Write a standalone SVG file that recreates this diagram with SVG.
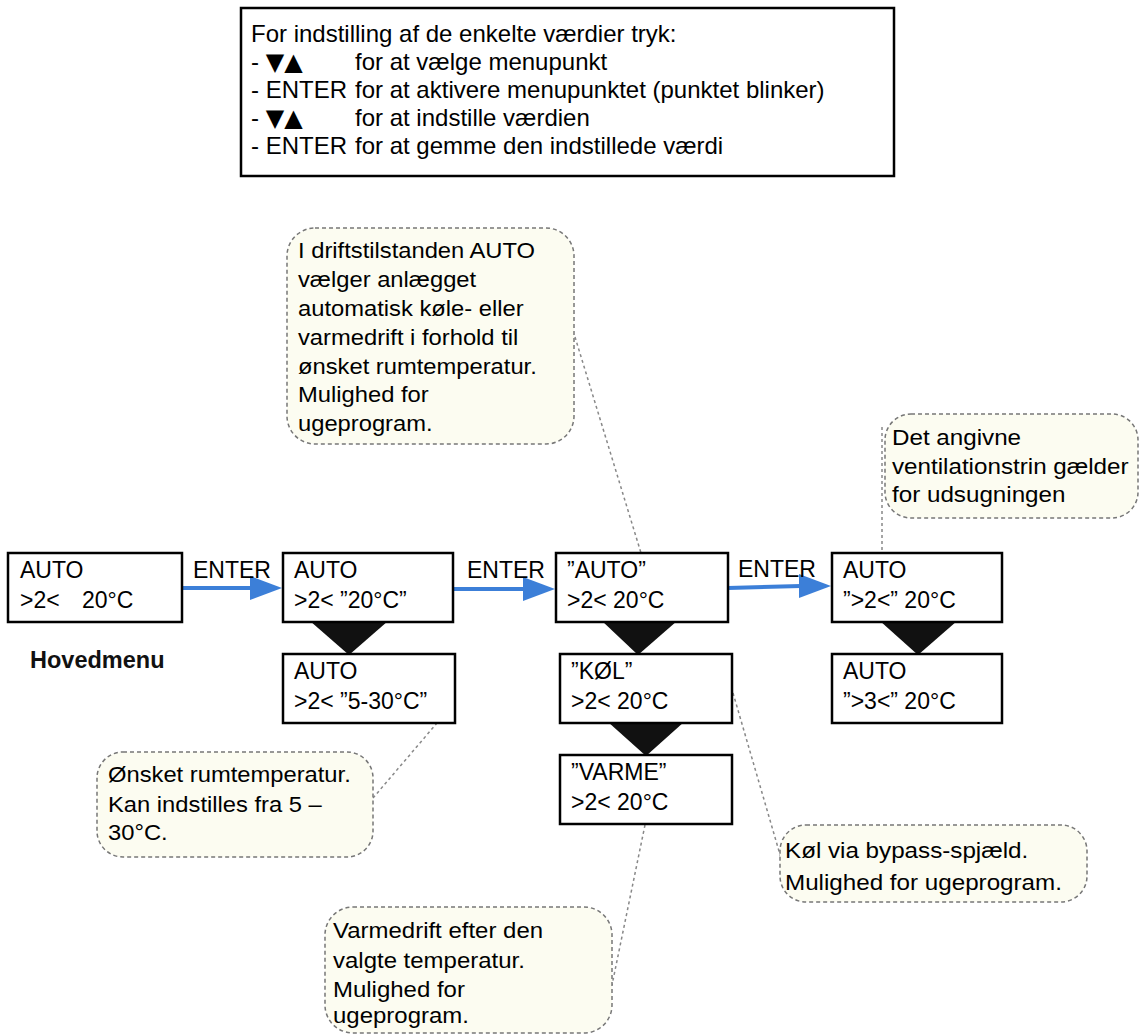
<svg xmlns="http://www.w3.org/2000/svg" width="1141" height="1035" viewBox="0 0 1141 1035">
<defs>
<style>
.box{fill:#fff;stroke:#000;stroke-width:2.5}
.t{font-family:"Liberation Sans",Arial,sans-serif;font-size:23px;fill:#000}
.i{font-family:"Liberation Sans","DejaVu Sans",Arial,sans-serif;font-size:24px;fill:#000}
.sym{font-family:"DejaVu Sans",sans-serif;font-size:24px}
.c{font-family:"Liberation Sans",Arial,sans-serif;font-size:22px;fill:#000}
.b{font-family:"Liberation Sans",Arial,sans-serif;font-size:23.5px;font-weight:bold;fill:#111}
.call{fill:#fcfcf1;stroke:#777;stroke-width:1.5;stroke-dasharray:4 3}
.lead{fill:none;stroke:#888;stroke-width:1.5;stroke-dasharray:3 3}
.tri{fill:#111}
.arr{stroke:#3c7fd8;stroke-width:4;fill:none}
.ah{fill:#3c7fd8}
</style>
</defs>
<rect width="1141" height="1035" fill="#fff"/>

<g id="info">
<rect x="241" y="8" width="653" height="168" fill="#fff" stroke="#000" stroke-width="2.5"/>
<text class="i" x="251" y="42">For indstilling af de enkelte værdier tryk:</text>
<text class="i" x="251" y="70">- <tspan class="sym">▼▲</tspan></text><text class="i" x="355" y="70">for at vælge menupunkt</text>
<text class="i" x="251" y="98">- ENTER</text><text class="i" x="355" y="98">for at aktivere menupunktet (punktet blinker)</text>
<text class="i" x="251" y="126">- <tspan class="sym">▼▲</tspan></text><text class="i" x="355" y="126">for at indstille værdien</text>
<text class="i" x="251" y="154">- ENTER</text><text class="i" x="355" y="154">for at gemme den indstillede værdi</text>
</g>

<g id="connectors">
<line class="lead" x1="575" y1="337" x2="641" y2="553"/>
<line class="lead" x1="882" y1="427" x2="882" y2="553"/>
<line class="lead" x1="373" y1="798" x2="437" y2="723"/>
<line class="lead" x1="733" y1="693" x2="781" y2="858"/>
<line class="lead" x1="645" y1="825" x2="612" y2="985"/>
<line class="arr" x1="182" y1="588" x2="252" y2="588"/>
<polygon class="ah" points="250,576 282,588 250,600"/>
<line class="arr" x1="453" y1="589" x2="525" y2="589"/>
<polygon class="ah" points="523,577 555,589 523,601"/>
<line class="arr" x1="728" y1="588" x2="801" y2="586"/>
<polygon class="ah" points="799,574 831,586 799,598"/>
<text class="t" x="193" y="578">ENTER</text>
<text class="t" x="467" y="578">ENTER</text>
<text class="t" x="738" y="577">ENTER</text>
<polygon class="tri" points="310,621 388,621 349,655"/>
<polygon class="tri" points="602,621 677,621 638,655"/>
<polygon class="tri" points="608,722 684,722 646,756"/>
<polygon class="tri" points="880,621 957,621 918,655"/>
</g>

<g id="box1">
<rect class="box" x="8" y="553" width="174" height="69"/>
<text class="t" x="20" y="578">AUTO</text>
<text class="t" x="20" y="608">&gt;2&lt;</text><text class="t" x="82" y="608">20°C</text>
</g>
<text id="hovedmenu" class="b" x="30" y="668">Hovedmenu</text>

<g id="box2">
<rect class="box" x="283" y="553" width="170" height="69"/>
<text class="t" x="294" y="578">AUTO</text>
<text class="t" x="294" y="608">&gt;2&lt; ”20°C”</text>
</g>
<g id="box2b">
<rect class="box" x="283" y="654" width="172" height="69"/>
<text class="t" x="294" y="679">AUTO</text>
<text class="t" x="294" y="709">&gt;2&lt; ”5-30°C”</text>
</g>
<g id="box3">
<rect class="box" x="556" y="553" width="172" height="69"/>
<text class="t" x="567" y="578">”AUTO”</text>
<text class="t" x="567" y="608">&gt;2&lt; 20°C</text>
</g>
<g id="box3b">
<rect class="box" x="560" y="654" width="172" height="69"/>
<text class="t" x="571" y="679">”KØL”</text>
<text class="t" x="571" y="709">&gt;2&lt; 20°C</text>
</g>
<g id="box3c">
<rect class="box" x="560" y="755" width="172" height="69"/>
<text class="t" x="571" y="780">”VARME”</text>
<text class="t" x="571" y="810">&gt;2&lt; 20°C</text>
</g>
<g id="box4">
<rect class="box" x="832" y="553" width="170" height="69"/>
<text class="t" x="843" y="578">AUTO</text>
<text class="t" x="843" y="608">”&gt;2&lt;” 20°C</text>
</g>
<g id="box4b">
<rect class="box" x="832" y="654" width="170" height="69"/>
<text class="t" x="843" y="679">AUTO</text>
<text class="t" x="843" y="709">”&gt;3&lt;” 20°C</text>
</g>

<g id="note-auto">
<rect class="call" x="287" y="228" width="287" height="216" rx="28"/>
<g transform="translate(298 0) scale(1.08 1)">
<text class="c" x="0" y="258">I driftstilstanden AUTO</text>
<text class="c" x="0" y="287">vælger anlægget</text>
<text class="c" x="0" y="316">automatisk køle- eller</text>
<text class="c" x="0" y="345">varmedrift i forhold til</text>
<text class="c" x="0" y="374">ønsket rumtemperatur.</text>
<text class="c" x="0" y="402">Mulighed for</text>
<text class="c" x="0" y="431">ugeprogram.</text>
</g>
</g>
<g id="note-vent">
<rect class="call" x="885" y="414" width="253" height="104" rx="26"/>
<g transform="translate(892 0) scale(1.1 1)">
<text class="c" x="0" y="445">Det angivne</text>
<text class="c" x="0" y="474">ventilationstrin gælder</text>
<text class="c" x="0" y="502">for udsugningen</text>
</g>
</g>
<g id="note-temp">
<rect class="call" x="97" y="752" width="276" height="105" rx="26"/>
<g transform="translate(108 0) scale(1.08 1)">
<text class="c" x="0" y="782">Ønsket rumtemperatur.</text>
<text class="c" x="0" y="812">Kan indstilles fra 5 –</text>
<text class="c" x="0" y="840">30°C.</text>
</g>
</g>
<g id="note-kol">
<rect class="call" x="780" y="825" width="307" height="77" rx="26"/>
<g transform="translate(785 0) scale(1.1 1)">
<text class="c" x="0" y="858">Køl via bypass-spjæld.</text>
<text class="c" x="0" y="890">Mulighed for ugeprogram.</text>
</g>
</g>
<g id="note-varme">
<rect class="call" x="325" y="907" width="287" height="126" rx="28"/>
<g transform="translate(333 0) scale(1.09 1)">
<text class="c" x="0" y="938">Varmedrift efter den</text>
<text class="c" x="0" y="968">valgte temperatur.</text>
<text class="c" x="0" y="997">Mulighed for</text>
<text class="c" x="0" y="1023">ugeprogram.</text>
</g>
</g>
</svg>
